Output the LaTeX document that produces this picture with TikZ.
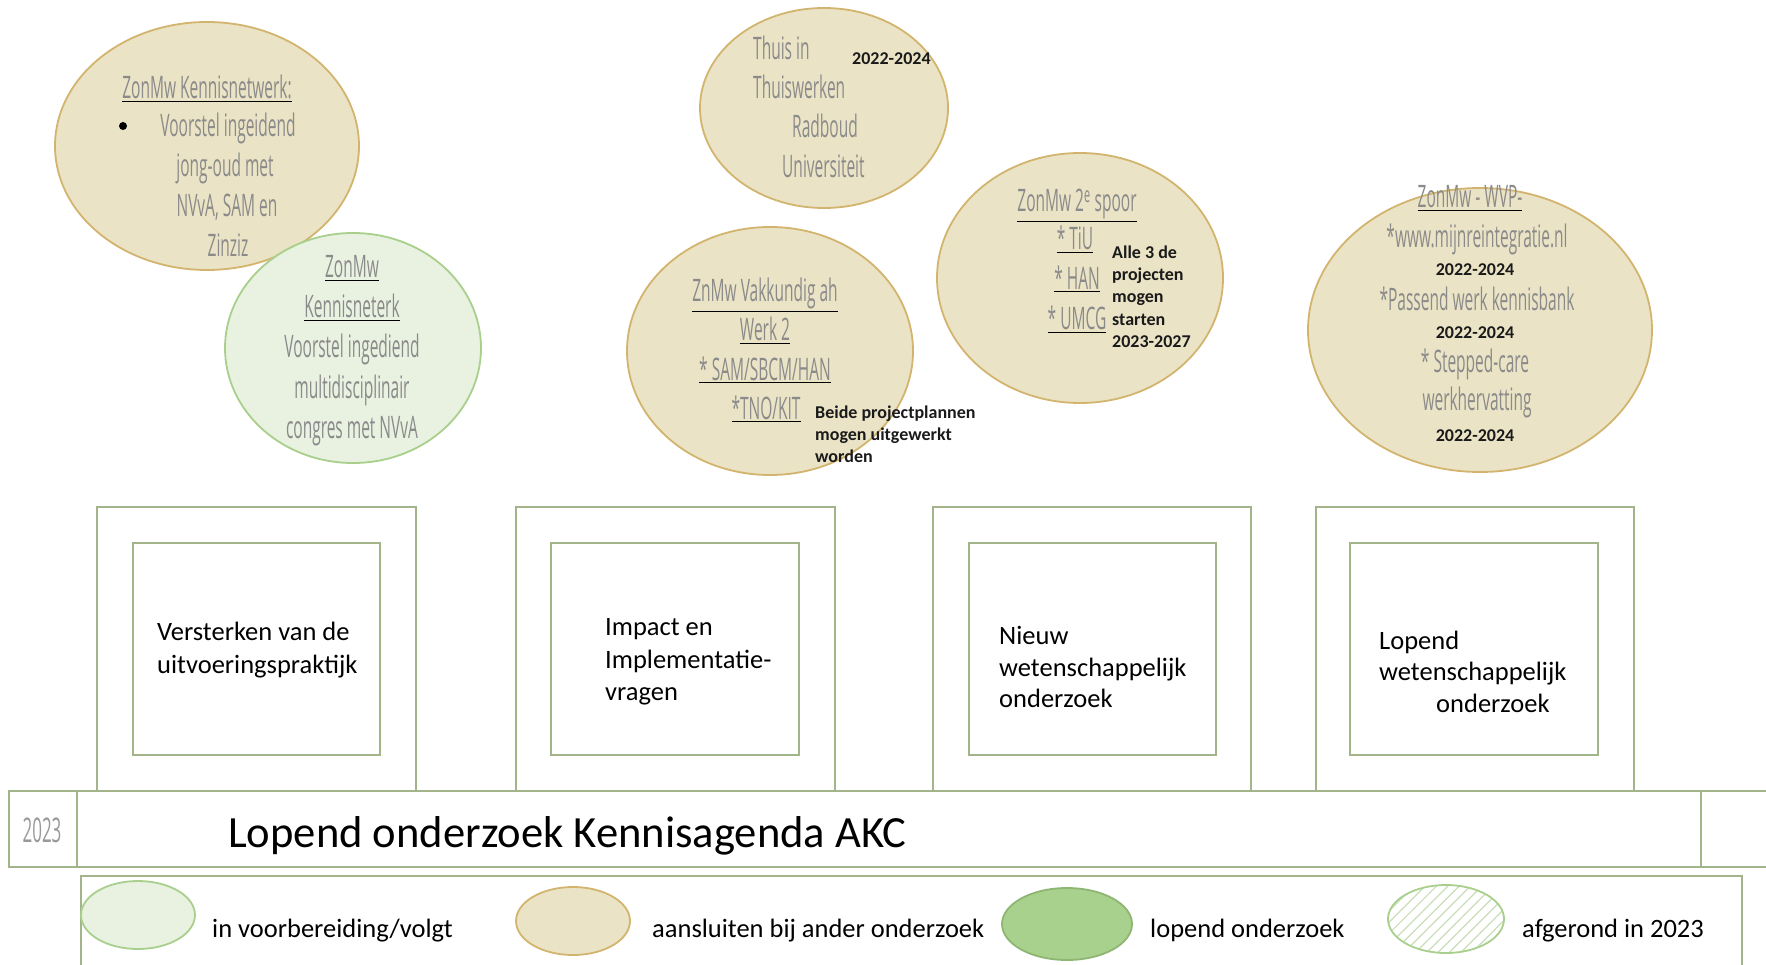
\documentclass[tikz,border=0pt]{standalone}
\usepackage{fontspec}
\setmainfont{Carlito}
\newfontfamily\ellfont[FakeStretch=0.5]{Open Sans}
\usetikzlibrary{shapes.geometric,patterns.meta}
\definecolor{kaderlijn}{HTML}{A3B38A}
\definecolor{beigevul}{HTML}{EAE3C5}
\definecolor{beigerand}{HTML}{D2B46E}
\definecolor{groenvul}{HTML}{E9F1E1}
\definecolor{groenrand}{HTML}{A8CF8C}
\definecolor{lopendvul}{HTML}{A9D18E}
\definecolor{lopendrand}{HTML}{8FB573}
\definecolor{arceer}{HTML}{C9DDB8}
\definecolor{elltekst}{HTML}{8A8A8A}
\definecolor{vettekst}{HTML}{1A1A1A}
\newcommand\ulx[1]{{\color{black}\underline{\color{elltekst}#1}}}
\begin{document}
\begin{tikzpicture}[x=1pt,y=-1pt,
 kader/.style={draw=kaderlijn,line width=1.6pt},
 bel/.style={draw=beigerand,fill=beigevul,line width=1.8pt},
 gel/.style={draw=groenrand,fill=groenvul,line width=1.8pt},
 dun/.style={font=\ellfont\fontsize{31}{39.5}\selectfont,text=elltekst,inner sep=0pt,anchor=base},
 dunl/.style={dun,anchor=base west},
 vet/.style={font=\bfseries\fontsize{18}{21}\selectfont,text=vettekst,inner sep=0pt,anchor=base west},
 vak/.style={font=\fontsize{26.5}{32.5}\selectfont,inner sep=0pt,anchor=base west}]
\useasboundingbox (0,0) rectangle (1766,965);
% ellipsen
\draw[bel] (207,146) ellipse [x radius=152, y radius=124];
\draw[gel] (353,348) ellipse [x radius=128, y radius=115];
\draw[bel] (824,108) ellipse [x radius=124, y radius=100];
\draw[bel] (770,351) ellipse [x radius=143, y radius=124];
\draw[bel] (1080,278) ellipse [x radius=143, y radius=125];
\draw[bel] (1480,330) ellipse [x radius=172, y radius=142];
% teksten in de ellipsen
\node[dun] (kn1) at (207,99) {\ulx{ZonMw Kennisnetwerk:}};
\node[circle,fill=black,inner sep=0pt,minimum size=8pt] (knbol) at (123,126) {};
\node[dun] (kn2) at (228,137) {Voorstel ingeidend};
\node[dun] (kn3) at (225,177) {jong-oud met};
\node[dun] (kn4) at (227,217) {NVvA, SAM en};
\node[dun] (kn5) at (228,257) {Zinziz};
\node[dun] (kg1) at (352,278) {\ulx{ZonMw}};
\node[dun] (kg2) at (352,318) {\ulx{Kennisneterk}};
\node[dun] (kg3) at (352,358) {Voorstel ingediend};
\node[dun] (kg4) at (352,398) {multidisciplinair};
\node[dun] (kg5) at (352,438) {congres met NVvA};
\node[dunl] (th1) at (753,60) {Thuis in};
\node[dunl] (th2) at (753,99) {Thuiswerken};
\node[dunl] (th3) at (792,138) {Radboud};
\node[dunl] (th4) at (782,178) {Universiteit};
\node[vet] (thjaar) at (852,65) {2022-2024};
\node[dun] (vk1) at (765,302) {\ulx{ZnMw Vakkundig ah}};
\node[dun] (vk2) at (765,341) {\ulx{Werk 2}};
\node[dun] (vk3) at (765,380) {\ulx{* SAM/SBCM/HAN}};
\node[dun] (vk4) at (766,419) {\ulx{*TNO/KIT}};
\node[vet] (vkn1) at (815,418) {Beide projectplannen};
\node[vet] (vkn2) at (815,440) {mogen uitgewerkt};
\node[vet] (vkn3) at (815,462) {worden};
\node[dun] (sp1) at (1077,212) {\ulx{ZonMw 2\textsuperscript{e} spoor}};
\node[dun] (sp2) at (1075,250) {\ulx{* TiU}};
\node[dun] (sp3) at (1077,290) {\ulx{* HAN}};
\node[dun] (sp4) at (1077,330) {\ulx{* UMCG}};
\node[vet] (spn1) at (1112,259) {Alle 3 de};
\node[vet] (spn2) at (1112,281) {projecten};
\node[vet] (spn3) at (1112,303) {mogen};
\node[vet] (spn4) at (1112,326) {starten};
\node[vet] (spn5) at (1112,348) {2023-2027};
\node[dun] (wv1) at (1470,208) {\ulx{ZonMw - WVP-}};
\node[dun] (wv2) at (1477,248) {*www.mijnreintegratie.nl};
\node[vet,anchor=base] (wvj1) at (1475,276) {2022-2024};
\node[dun] (wv3) at (1477,311) {*Passend werk kennisbank};
\node[vet,anchor=base] (wvj2) at (1475,339) {2022-2024};
\node[dun] (wv4) at (1475,372) {* Stepped-care};
\node[dun] (wv5) at (1477,410) {werkhervatting};
\node[vet,anchor=base] (wvj3) at (1475,441) {2022-2024};
% kaders
\draw[kader] (97,507) rectangle (416,791);
\draw[kader] (133,543) rectangle (380,755);
\draw[kader] (516,507) rectangle (835,791);
\draw[kader] (551,543) rectangle (799,755);
\draw[kader] (933,507) rectangle (1251,791);
\draw[kader] (969,543) rectangle (1216,755);
\draw[kader] (1316,507) rectangle (1634,791);
\draw[kader] (1350,543) rectangle (1598,755);
\node[vak] (v1a) at (157,640) {Versterken van de};
\node[vak] (v1b) at (157,673) {uitvoeringspraktijk};
\node[vak] (v2a) at (605,635) {Impact en};
\node[vak] (v2b) at (605,668) {Implementatie-};
\node[vak] (v2c) at (605,700) {vragen};
\node[vak] (v3a) at (999,644) {Nieuw};
\node[vak] (v3b) at (999,676) {wetenschappelijk};
\node[vak] (v3c) at (999,707) {onderzoek};
\node[vak] (v4a) at (1379,649) {Lopend};
\node[vak] (v4b) at (1379,680) {wetenschappelijk};
\node[vak] (v4c) at (1436,712) {onderzoek};
% balk
\draw[kader] (9,791) rectangle (1790,867);
\draw[kader] (77,791) -- (77,867);
\draw[kader] (1701,791) -- (1701,867);
\node[dun,font=\ellfont\fontsize{34}{40}\selectfont,text=gray!80] (jaar) at (42,842) {2023};
\node[inner sep=0pt,anchor=base west,font=\fontsize{44.6}{50}\selectfont] (titel) at (228,847) {Lopend onderzoek Kennisagenda AKC};
% legenda
\draw[kader] (81,876) rectangle (1742,990);
\draw[gel] (138,915) ellipse [x radius=57, y radius=34];
\draw[bel] (573,921) ellipse [x radius=57, y radius=34];
\draw[draw=lopendrand,fill=lopendvul,line width=1.8pt] (1067,924) ellipse [x radius=65, y radius=36];
\draw[draw=groenrand,line width=1.8pt,pattern={Lines[angle=45,distance=8pt,line width=1.2pt]},pattern color=arceer] (1446,919) ellipse [x radius=58, y radius=34];
\node[vak] (lg1) at (212,937) {in voorbereiding/volgt};
\node[vak] (lg2) at (652,937) {aansluiten bij ander onderzoek};
\node[vak] (lg3) at (1150,937) {lopend onderzoek};
\node[vak] (lg4) at (1522,937) {afgerond in 2023};
\end{tikzpicture}
\end{document}
